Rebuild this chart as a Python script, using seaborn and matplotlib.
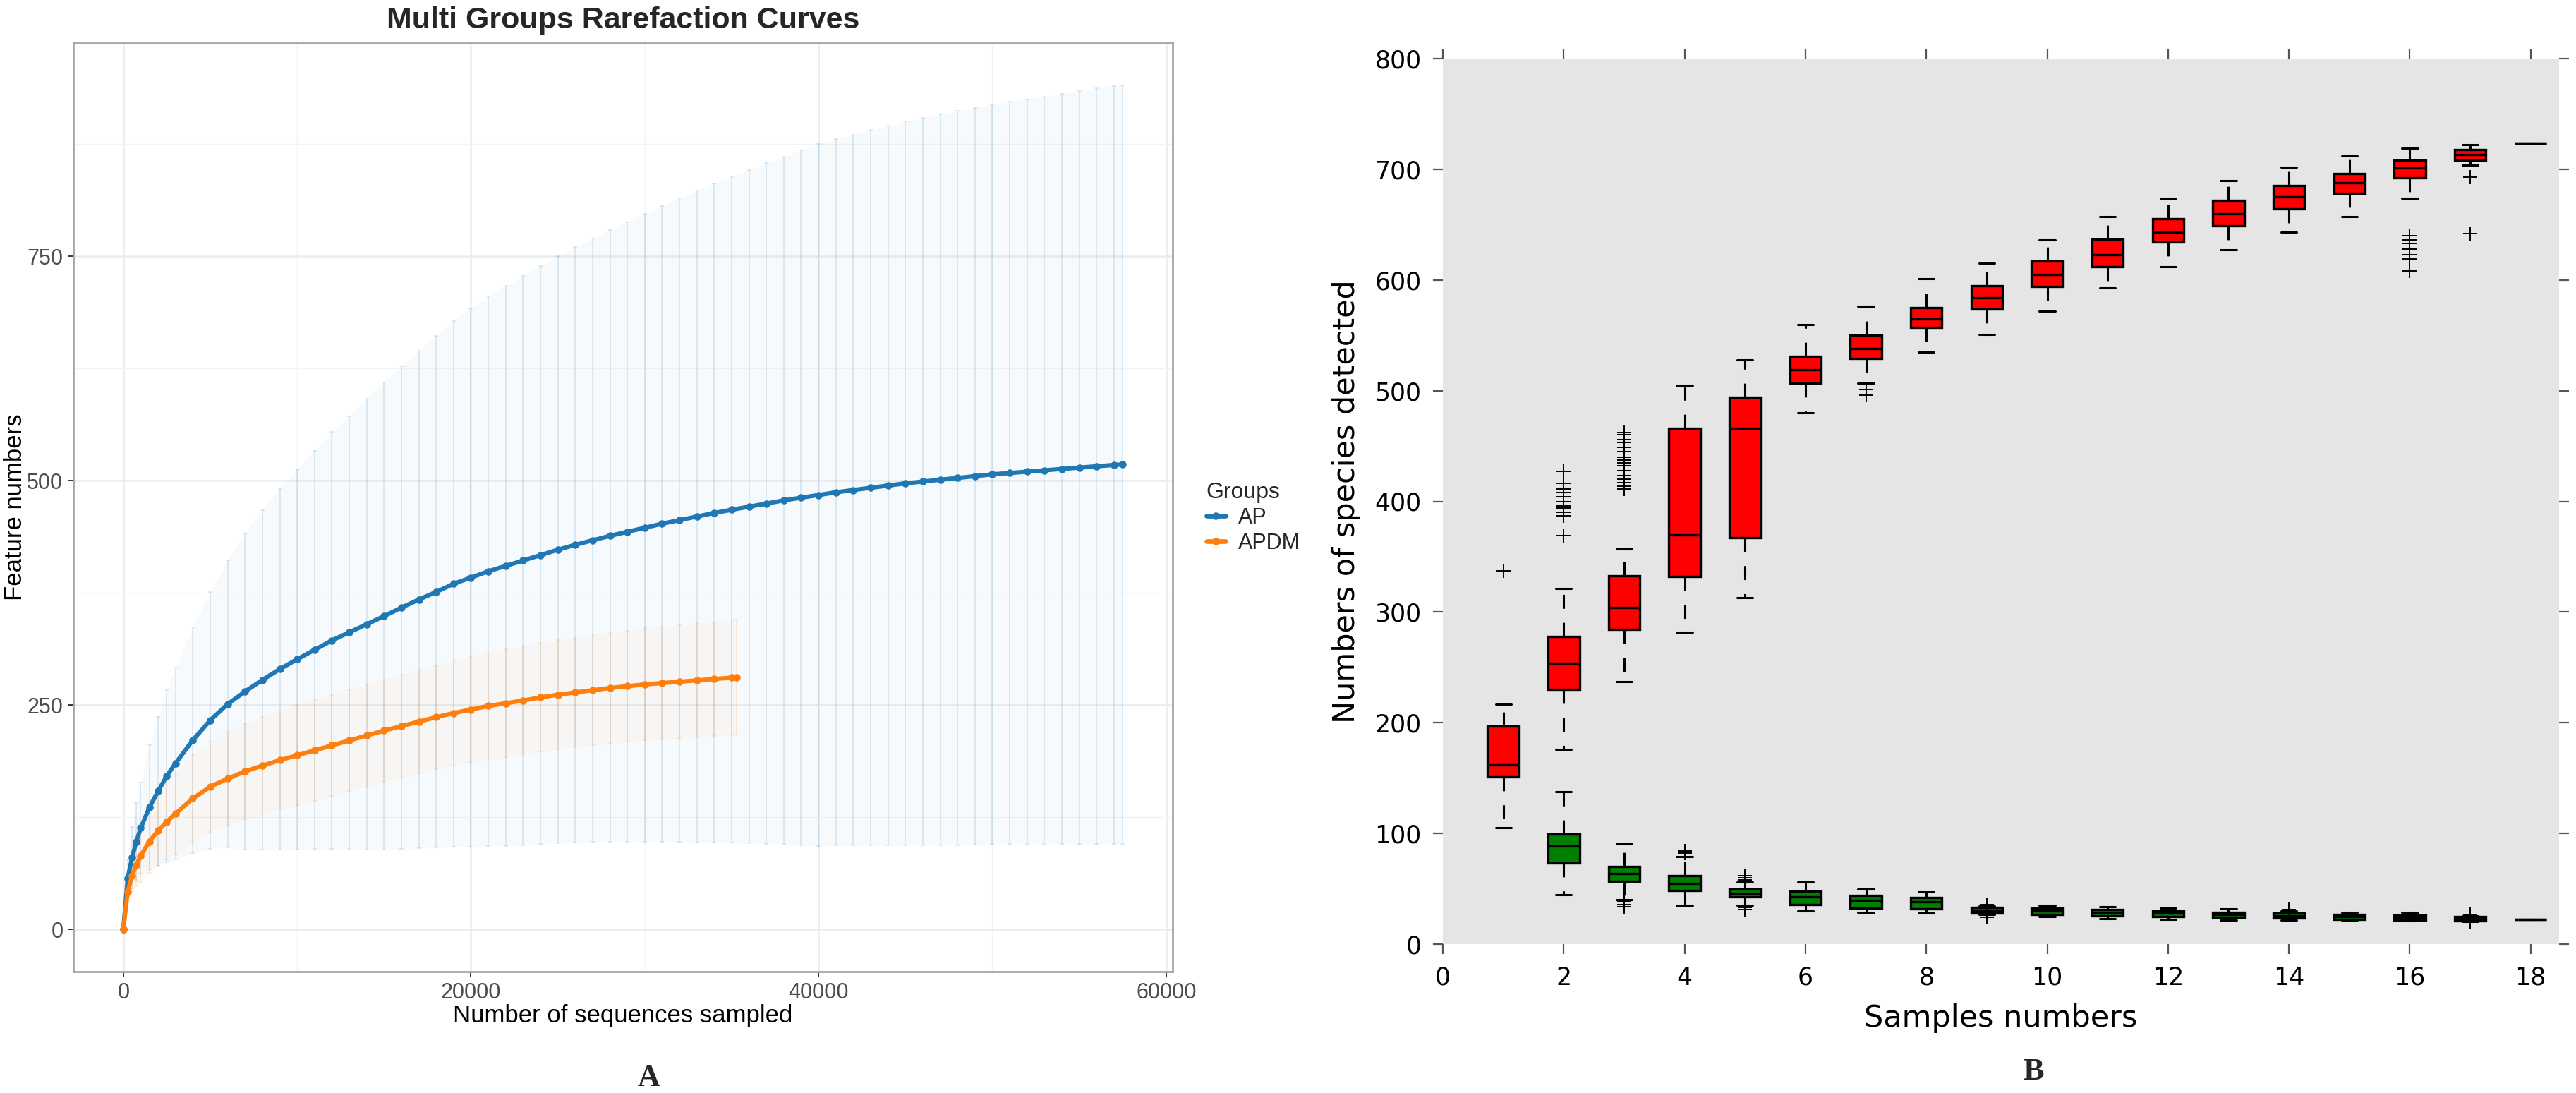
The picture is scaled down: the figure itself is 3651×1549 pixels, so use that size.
import numpy as np
import pandas as pd
import matplotlib
matplotlib.use('Agg')
import matplotlib.pyplot as plt
from matplotlib.lines import Line2D
import seaborn as sns

# ---------------- Panel A: rarefaction curves (mean and sd per depth) ----------------
ap_depth = [0, 250, 500, 750, 1000, 1500, 2000, 2500, 3000, 4000, 5000, 6000, 7000, 8000,
            9000, 10000, 11000, 12000, 13000, 14000, 15000, 16000, 17000, 18000, 19000,
            20000, 21000, 22000, 23000, 24000, 25000, 26000, 27000, 28000, 29000, 30000,
            31000, 32000, 33000, 34000, 35000, 36000, 37000, 38000, 39000, 40000, 41000,
            42000, 43000, 44000, 45000, 46000, 47000, 48000, 49000, 50000, 51000, 52000,
            53000, 54000, 55000, 56000, 57000, 57500]
ap_mean = [0, 57, 80, 98, 113, 136, 154, 171, 185, 211, 233, 251, 265, 278,
           290, 301, 311.5, 322, 331, 340, 349, 358.5, 367.5, 376, 385,
           392, 399, 405, 411, 417, 423, 428.5, 433.5, 438.5, 443, 447.5,
           452, 456, 460, 464, 467.5, 471, 474.5, 478, 481, 484, 487,
           489.5, 492, 494.5, 497, 499, 501, 503, 505, 507, 508.5, 510,
           511.5, 513, 514.5, 516, 517.5, 518]
ap_sd = [0, 20, 34, 43, 51, 69, 83, 96, 107, 126, 143, 160, 176, 189,
         201, 212, 222, 232, 241, 251, 260, 269, 277, 285, 293,
         300, 306, 312, 317, 322, 327, 331.5, 336, 340.5, 345, 349.5,
         354, 358.5, 363, 367, 371, 375, 379, 383, 387, 391, 393.5,
         396, 398.5, 401, 403, 405, 407, 409, 410.5, 412, 413.5, 415,
         416.5, 418, 419.5, 421, 422, 422.5]

apdm_depth = [0, 250, 500, 750, 1000, 1500, 2000, 2500, 3000, 4000, 5000, 6000, 7000, 8000,
              9000, 10000, 11000, 12000, 13000, 14000, 15000, 16000, 17000, 18000, 19000,
              20000, 21000, 22000, 23000, 24000, 25000, 26000, 27000, 28000, 29000, 30000,
              31000, 32000, 33000, 34000, 35000, 35300]
apdm_mean = [0, 42, 60, 72, 82, 98, 110, 120, 129, 146, 159, 168, 176, 182.5,
             188.5, 194, 199.5, 205, 210.5, 216, 221.5, 226.5, 231.5, 236.5, 241,
             245, 249, 252, 255, 258.5, 261.5, 264, 266.5, 269, 271, 273,
             274.5, 276, 277.5, 279, 280.5, 281]
apdm_sd = [0, 10, 18, 24, 29, 35, 39, 42, 45, 48, 50, 52, 53, 54,
           55, 56, 56, 56.5, 56.5, 57, 57, 57.5, 58, 58, 58.5,
           59, 59.5, 60, 60, 60.5, 61, 61, 61.5, 62, 62, 62.5,
           63, 63, 63.5, 63.5, 64, 64]

groups = ['AP', 'APDM']
group_colors = {'AP': '#1F77B4', 'APDM': '#FF7F0E'}

# ---------------- Panel B: box statistics per sample number ----------------
red_pos = list(range(1, 19))
red_q1 = [151, 230, 284, 332, 367, 507, 529, 557, 574, 594, 612, 634, 649, 664, 678, 692, 708, 723.5]
red_med = [162, 254, 304, 370, 466, 519, 538, 565, 584, 605, 623, 643, 660, 675, 688, 701, 713, 723.5]
red_q3 = [197, 278, 332.5, 466, 494, 531, 550, 575, 595, 617, 637, 655, 672, 685, 696, 708, 718, 723.5]
red_lo = [105, 176, 237, 281.5, 313, 480, 507, 535, 551, 572, 593, 612, 627, 643, 657, 674, 704, 723.5]
red_hi = [216.5, 321.5, 357, 505, 528, 560, 576, 601, 615, 636, 657, 674, 690, 702, 712, 719, 722.5, 723.5]
red_fliers = [[337],
              [427, 416, 411, 408, 404, 400, 396, 394, 390, 387, 369],
              [462, 460, 456, 453, 449, 445, 440, 437, 435, 432, 428, 423, 420, 417, 414, 411],
              [], [], [], [501, 496], [], [], [], [], [], [], [], [],
              [640, 636, 633, 628, 623, 619, 608],
              [693, 642], []]

green_pos = list(range(2, 19))
green_q1 = [73, 57, 48.6, 43, 36, 32.7, 31.6, 28, 27, 25.5, 24.8, 24.2, 23.6, 22.3, 21.6, 21, 22.3]
green_med = [88.5, 63.7, 55, 46, 43, 39.5, 38, 30.6, 30, 28.6, 28, 27, 25.7, 24.8, 24.2, 23, 22.3]
green_q3 = [99.5, 70, 62, 49.7, 47.7, 44, 42, 33, 32.5, 31, 30, 29, 28, 26.8, 26, 24.8, 22.3]
green_lo = [44.6, 40, 35, 35, 30, 29, 28, 26.5, 24.8, 22.9, 22.3, 21.6, 21.6, 21.6, 21, 20.4, 22.3]
green_hi = [137.6, 90.4, 79, 56, 56, 49.7, 47, 34.5, 35, 33.8, 32.7, 32, 30, 28.7, 28.7, 25.5, 22.3]
green_fliers = [[], [38, 36, 34], [82, 84], [62, 60, 58, 33, 31], [], [], [],
                [35.5, 24.5], [], [], [], [], [31.5], [], [], [27, 19.5], []]

# ---------------- figure ----------------
W, H, DPI = 3651, 1549, 200
sns.set_theme(style='white')
gg_font = ['Liberation Sans', 'DejaVu Sans']
plt.rcParams['font.family'] = ['DejaVu Sans']

fig = plt.figure(figsize=(W / DPI, H / DPI), dpi=DPI)
fig.patch.set_facecolor('white')

# ---- panel A ----
axA = fig.add_axes([104 / W, 1 - 1377 / H, (1662 - 104) / W, (1377 - 61) / H])
df_a = pd.concat([
    pd.DataFrame({'depth': ap_depth, 'mean': ap_mean, 'sd': ap_sd, 'group': 'AP'}),
    pd.DataFrame({'depth': apdm_depth, 'mean': apdm_mean, 'sd': apdm_sd, 'group': 'APDM'}),
], ignore_index=True)

for g in groups:
    sub = df_a[df_a['group'] == g]
    c = group_colors[g]
    axA.fill_between(sub['depth'], sub['mean'] - sub['sd'], sub['mean'] + sub['sd'],
                     color=c, alpha=0.03, lw=0, zorder=1)
    axA.errorbar(sub['depth'], sub['mean'], yerr=sub['sd'], fmt='none', ecolor=c,
                 alpha=0.16, elinewidth=0.6, capsize=1.2, capthick=0.6, zorder=2)

sns.lineplot(data=df_a, x='depth', y='mean', hue='group', palette=group_colors,
             estimator=None, sort=False, marker='o', markersize=3.8, markeredgewidth=0,
             linewidth=2.2, legend=False, ax=axA, zorder=3)

axA.set_xlim(-2875, 60375)
axA.set_ylim(-47, 987.5)
axA.set_xticks([0, 20000, 40000, 60000], ['0', '20000', '40000', '60000'],
               family=gg_font, fontsize=11, color='#4d4d4d')
axA.set_yticks([0, 250, 500, 750], ['0', '250', '500', '750'],
               family=gg_font, fontsize=11, color='#4d4d4d')
axA.set_xticks([10000, 30000, 50000], minor=True)
axA.set_yticks([125, 375, 625, 875], minor=True)
axA.grid(which='major', color='#e9ecef', lw=0.9)
axA.grid(which='minor', color='#f1f3f5', lw=0.5)
axA.set_axisbelow(True)
axA.tick_params(which='major', direction='out', length=2.75, width=0.7, color='#333333',
                pad=2.5, bottom=True, left=True)
axA.tick_params(which='minor', length=0)
for s in axA.spines.values():
    s.set_color('#a6a6a6')
    s.set_linewidth(1.0)
axA.set_xlabel('Number of sequences sampled', family=gg_font, fontsize=12.5, color='black')
axA.set_ylabel('Feature numbers', family=gg_font, fontsize=12.5, color='black')
axA.xaxis.set_label_coords(0.5, (1377 - 1439) / 1316)
axA.xaxis.label.set_va('center')
axA.yaxis.set_label_coords((22 - 104) / 1558, 0.5)
axA.yaxis.label.set_va('center')

fig.text(883 / W, 1 - 29 / H, 'Multi Groups Rarefaction Curves', ha='center', va='center',
         family=gg_font, fontsize=15.5, fontweight='bold')

handles = [Line2D([0], [0], color=group_colors[g], lw=2.4, marker='o', markersize=3.8,
                  markeredgewidth=0) for g in groups]
leg = fig.legend(handles, groups, title='Groups', loc='upper left',
                 bbox_to_anchor=(1682 / W, 1 - 655 / H), frameon=False,
                 handlelength=0.9, handletextpad=0.6, labelspacing=0.2,
                 prop={'family': gg_font, 'size': 11},
                 title_fontproperties={'family': gg_font, 'size': 11.5})
leg._legend_box.align = 'left'

# ---- panel B ----
axB = fig.add_axes([2045 / W, 1 - 1338 / H, (3627 - 2045) / W, (1338 - 83) / H])
axB.set_facecolor('#e5e5e5')


def box_stats(q1, med, q3, lo, hi, fliers):
    return [dict(q1=a, med=b, q3=c, whislo=d, whishi=e, fliers=f)
            for a, b, c, d, e, f in zip(q1, med, q3, lo, hi, fliers)]


common = dict(widths=0.52, patch_artist=True, manage_ticks=False,
              whiskerprops=dict(color='black', lw=1.1, linestyle=(0, (6.5, 6.5))),
              capprops=dict(color='black', lw=1.1),
              medianprops=dict(color='black', lw=1.2),
              flierprops=dict(marker='+', markersize=7.5, markeredgecolor='black',
                              markeredgewidth=0.7, linestyle='none'))
axB.bxp(box_stats(red_q1, red_med, red_q3, red_lo, red_hi, red_fliers), positions=red_pos,
        boxprops=dict(facecolor='#ff0000', edgecolor='black', lw=1.2), **common)
axB.bxp(box_stats(green_q1, green_med, green_q3, green_lo, green_hi, green_fliers),
        positions=green_pos,
        boxprops=dict(facecolor='#008000', edgecolor='black', lw=1.2), **common)

axB.set_xlim(0, 18.47)
axB.set_ylim(0, 800)
axB.set_xticks(range(0, 19, 2))
axB.set_yticks(range(0, 801, 100))
axB.tick_params(which='major', direction='out', top=True, right=True, bottom=True, left=True,
                labeltop=False, labelright=False, length=5, width=0.8, color='#555555',
                labelsize=12.5, labelcolor='black', pad=6)
for s in axB.spines.values():
    s.set_visible(False)
axB.grid(False)
axB.set_xlabel('Samples numbers', fontsize=15.5, color='black')
axB.set_ylabel('Numbers of species detected', fontsize=15.5, color='black')
axB.xaxis.set_label_coords(0.5, (1338 - 1443) / 1255)
axB.xaxis.label.set_va('center')
axB.yaxis.set_label_coords((1908 - 2045) / 1582, 0.5)
axB.yaxis.label.set_va('center')

# panel letters
fig.text(920 / W, 1 - 1528 / H, 'A', ha='center', va='center',
         family=['Liberation Serif', 'DejaVu Serif'], fontweight='bold', fontsize=16)
fig.text(2882 / W, 1 - 1519 / H, 'B', ha='center', va='center',
         family=['Liberation Serif', 'DejaVu Serif'], fontweight='bold', fontsize=16)

fig.savefig('out.png', dpi=DPI, facecolor='white')
